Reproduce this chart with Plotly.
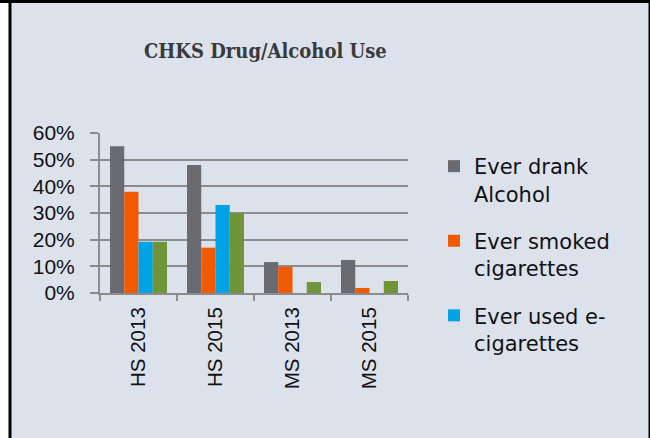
import plotly.graph_objects as go

# Survey categories and percentages for each behaviour
categories = ["HS 2013", "HS 2015", "MS 2013", "MS 2015"]
drank_alcohol = [0.55, 0.48, 0.116, 0.124]
smoked_cigarettes = [0.38, 0.17, 0.098, 0.019]
used_ecigarettes = [0.192, 0.33, None, None]
used_marijuana = [0.192, 0.30, 0.041, 0.045]

series_names = ["Ever drank<br>Alcohol", "Ever smoked<br>cigarettes",
                "Ever used e-<br>cigarettes", "Ever used<br>marijuana"]
series_values = [drank_alcohol, smoked_cigarettes, used_ecigarettes, used_marijuana]
series_colors = ["#696b70", "#f25a00", "#00a2e6", "#6f9538"]
series_in_legend = [True, True, True, False]

W, H = 650, 438
L, R, T, B = 100, 242, 133, 145
PW, PH = W - L - R, H - T - B
BG = "#dce2ec"
GRID = "#8c8c8c"


def px_x(x):
    return (x - L) / PW


def px_y(y):
    return (H - B - y) / PH


fig = go.Figure()
for i, (name, vals, color, show) in enumerate(zip(series_names, series_values,
                                                   series_colors, series_in_legend)):
    fig.add_trace(go.Bar(
        x=categories, y=vals, name=name,
        marker=dict(color=color, line=dict(width=0)),
        legendgroup=f"g{i}", showlegend=show,
    ))

shapes = [
    # chart area background
    dict(type="rect", xref="paper", yref="paper", layer="below",
         x0=px_x(10), x1=px_x(651), y0=px_y(440), y1=px_y(2),
         fillcolor=BG, line=dict(width=0)),
    # black frame
    dict(type="line", xref="paper", yref="paper",
         x0=px_x(0), x1=px_x(651), y0=px_y(1.5), y1=px_y(1.5),
         line=dict(color="black", width=3)),
    dict(type="line", xref="paper", yref="paper",
         x0=px_x(10), x1=px_x(10), y0=px_y(0), y1=px_y(440),
         line=dict(color="black", width=3)),
    dict(type="line", xref="paper", yref="paper",
         x0=px_x(649.5), x1=px_x(649.5), y0=px_y(0), y1=px_y(440),
         line=dict(color="black", width=2)),
]

fig.update_layout(
    width=W, height=H,
    margin=dict(l=L, r=R, t=T, b=B, pad=0),
    paper_bgcolor="white",
    plot_bgcolor="rgba(0,0,0,0)",
    barmode="group", bargap=0.26, bargroupgap=0,
    shapes=shapes,
    annotations=[dict(
        text="<b>CHKS Drug/Alcohol Use</b>", xref="paper", yref="paper",
        x=px_x(265), y=px_y(51), xanchor="center", yanchor="middle",
        showarrow=False,
        font=dict(family="DejaVu Serif Condensed", size=20, color="#3a3a3a"),
    )],
    legend=dict(
        x=px_x(434), y=px_y(146), xanchor="left", yanchor="top",
        font=dict(family="DejaVu Sans", size=21, color="#111111"),
        valign="top", tracegroupgap=17, bgcolor="rgba(0,0,0,0)",
        traceorder="grouped", maxheight=400,
    ),
    font=dict(family="Liberation Sans", color="#111111"),
)

fig.update_yaxes(
    range=[0, 0.6], dtick=0.1, tickformat=".0%",
    showgrid=True, gridcolor=GRID, gridwidth=2,
    showline=True, linecolor=GRID, linewidth=2,
    ticks="outside", ticklen=8, tickcolor=GRID, tickwidth=2,
    ticklabelstandoff=11,
    tickfont=dict(family="Liberation Sans", size=21, color="#111111"),
    zeroline=False, fixedrange=True,
)
fig.update_xaxes(
    tickangle=-90, tickson="boundaries",
    showline=True, linecolor=GRID, linewidth=2,
    ticks="outside", ticklen=6, tickcolor=GRID, tickwidth=2,
    ticklabelstandoff=4,
    tickfont=dict(family="Liberation Sans", size=20.5, color="#111111"),
    showgrid=False, fixedrange=True,
)

fig.write_html("out.html")
